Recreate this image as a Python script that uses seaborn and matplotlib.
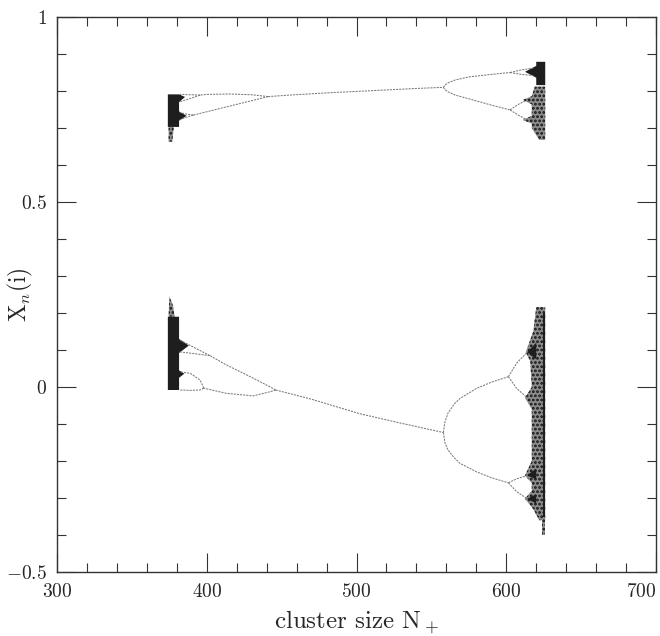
"""Bifurcation diagram of x_n(i) against cluster size N+."""
import matplotlib
matplotlib.use("Agg")
import matplotlib.pyplot as plt
from matplotlib.ticker import MultipleLocator
import seaborn as sns

# axis ticks
x_ticks = [300, 400, 500, 600, 700]
y_ticks = [-0.5, 0, 0.5, 1]
y_tick_labels = [r"$-0.5$", r"$0$", r"$0.5$", r"$1$"]

# ---- periodic branches ----
# upper group
top_main_x = [441, 455, 480, 510, 540, 558]
top_main_y = [0.785, 0.789, 0.795, 0.801, 0.807, 0.810]
top_left_hi_x = [441, 430, 415, 400, 395.5]
top_left_hi_y = [0.785, 0.790, 0.792, 0.791, 0.789]
top_left_lo_x = [441, 430, 413, 400, 391]
top_left_lo_y = [0.785, 0.774, 0.757, 0.744, 0.735]
tl_p4a_x = [395.5, 389, 382]
tl_p4a_y = [0.789, 0.790, 0.791]
tl_p4b_x = [395.5, 389, 382]
tl_p4b_y = [0.789, 0.780, 0.771]
tl_p4c_x = [391, 386, 382]
tl_p4c_y = [0.735, 0.738, 0.742]
tl_p4d_x = [391, 386, 382]
tl_p4d_y = [0.735, 0.729, 0.722]
top_right_hi_x = [558, 559, 561, 566, 575, 590, 602.5]
top_right_hi_y = [0.810, 0.816, 0.822, 0.830, 0.838, 0.845, 0.850]
top_right_lo_x = [558, 559, 561, 566, 575, 590, 602.5]
top_right_lo_y = [0.810, 0.804, 0.798, 0.789, 0.779, 0.762, 0.749]
tr_p4a_x = [602.5, 610, 618]
tr_p4a_y = [0.850, 0.857, 0.862]
tr_p4b_x = [602.5, 610, 618]
tr_p4b_y = [0.850, 0.845, 0.842]
tr_p4c_x = [602.5, 608, 614]
tr_p4c_y = [0.749, 0.764, 0.776]
tr_p4d_x = [602.5, 608, 614]
tr_p4d_y = [0.749, 0.735, 0.722]

# lower group
bot_main_x = [446, 470, 502, 530, 558]
bot_main_y = [-0.008, -0.033, -0.072, -0.098, -0.123]
bot_left_hi_x = [446, 442, 430, 413, 402]
bot_left_hi_y = [-0.008, 0.001, 0.026, 0.060, 0.085]
bot_left_lo_x = [446, 442, 431, 413, 398]
bot_left_lo_y = [-0.008, -0.013, -0.024, -0.017, -0.003]
bl_p4a_x = [402, 392, 382]
bl_p4a_y = [0.085, 0.106, 0.127]
bl_p4b_x = [402, 392, 382]
bl_p4b_y = [0.085, 0.090, 0.095]
bl_p4c_x = [398, 395.5, 389, 382]
bl_p4c_y = [-0.003, 0.019, 0.037, 0.041]
bl_p4d_x = [398, 395.5, 389, 382]
bl_p4d_y = [-0.003, -0.008, -0.009, -0.008]
bot_right_hi_x = [558, 559, 561, 565, 569, 580, 590, 601.4]
bot_right_hi_y = [-0.123, -0.095, -0.071, -0.047, -0.031, -0.004, 0.013, 0.028]
bot_right_lo_x = [558, 559, 561, 565, 569, 580, 590, 601.4]
bot_right_lo_y = [-0.123, -0.150, -0.170, -0.190, -0.206, -0.229, -0.245, -0.259]
br_p4a_x = [601.4, 607, 614]
br_p4a_y = [0.028, 0.065, 0.094]
br_p4b_x = [601.4, 607, 614]
br_p4b_y = [0.028, -0.004, -0.029]
br_p4c_x = [601.4, 607, 614]
br_p4c_y = [-0.259, -0.248, -0.239]
br_p4d_x = [601.4, 607, 614]
br_p4d_y = [-0.259, -0.283, -0.302]

# ---- chaotic bands (outlines) ----
tl_dense_x = [374, 374, 381.5, 385.5, 381.5, 381.5, 386.5, 381.5, 381.5]
tl_dense_y = [0.703, 0.791, 0.791, 0.784, 0.770, 0.745, 0.733, 0.720, 0.703]
tl_sparse_x = [374.5, 374.5, 378, 377]
tl_sparse_y = [0.663, 0.703, 0.703, 0.663]

bl_dense_x = [374, 374, 381.5, 381.5, 388, 381.5, 381.5, 385, 381.5, 381.5]
bl_dense_y = [-0.008, 0.19, 0.19, 0.13, 0.112, 0.092, 0.045, 0.036, 0.025, -0.008]
bl_sparse_x = [374.5, 375, 377.5, 378.5]
bl_sparse_y = [0.19, 0.245, 0.22, 0.19]

tr_dense_x = [626, 626, 620, 620, 612.5, 620, 620]
tr_dense_y = [0.879, 0.816, 0.816, 0.836, 0.852, 0.868, 0.879]
tr_mid_x = [626, 626, 622, 617, 617, 611, 617, 617, 611, 617, 619]
tr_mid_y = [0.812, 0.668, 0.668, 0.700, 0.712, 0.722, 0.733, 0.764, 0.776, 0.786, 0.812]

br_col_x = [624.5, 624.5, 626, 626]
br_col_y = [-0.35, 0.20, 0.20, -0.35]
br_mid_x = [626, 620, 618, 613, 616, 617, 612.5, 617, 617, 612.5, 617, 617, 612.5, 618, 622, 626]
br_mid_y = [0.216, 0.216, 0.15, 0.094, 0.07, 0.0, -0.029, -0.06, -0.2, -0.239,
            -0.26, -0.28, -0.302, -0.33, -0.36, -0.36]
br_wedge1_x = [614, 620, 620]
br_wedge1_y = [0.094, 0.12, 0.075]
br_wedge2_x = [614, 620, 620]
br_wedge2_y = [-0.239, -0.22, -0.25]
br_wedge3_x = [614, 620, 620]
br_wedge3_y = [-0.302, -0.29, -0.315]
br_tail_x = [624, 624, 626, 626]
br_tail_y = [-0.36, -0.40, -0.40, -0.36]

branches = [
    (top_main_x, top_main_y), (top_left_hi_x, top_left_hi_y), (top_left_lo_x, top_left_lo_y),
    (tl_p4a_x, tl_p4a_y), (tl_p4b_x, tl_p4b_y), (tl_p4c_x, tl_p4c_y), (tl_p4d_x, tl_p4d_y),
    (top_right_hi_x, top_right_hi_y), (top_right_lo_x, top_right_lo_y),
    (tr_p4a_x, tr_p4a_y), (tr_p4b_x, tr_p4b_y), (tr_p4c_x, tr_p4c_y), (tr_p4d_x, tr_p4d_y),
    (bot_main_x, bot_main_y), (bot_left_hi_x, bot_left_hi_y), (bot_left_lo_x, bot_left_lo_y),
    (bl_p4a_x, bl_p4a_y), (bl_p4b_x, bl_p4b_y), (bl_p4c_x, bl_p4c_y), (bl_p4d_x, bl_p4d_y),
    (bot_right_hi_x, bot_right_hi_y), (bot_right_lo_x, bot_right_lo_y),
    (br_p4a_x, br_p4a_y), (br_p4b_x, br_p4b_y), (br_p4c_x, br_p4c_y), (br_p4d_x, br_p4d_y),
]
dense_bands = [(tl_dense_x, tl_dense_y), (bl_dense_x, bl_dense_y), (tr_dense_x, tr_dense_y),
               (br_col_x, br_col_y), (br_wedge1_x, br_wedge1_y), (br_wedge2_x, br_wedge2_y),
               (br_wedge3_x, br_wedge3_y)]
speckled_bands = [(tl_sparse_x, tl_sparse_y), (bl_sparse_x, bl_sparse_y), (tr_mid_x, tr_mid_y),
                  (br_mid_x, br_mid_y), (br_tail_x, br_tail_y)]

sns.set_theme(style="ticks")
plt.rcParams["font.family"] = "serif"
plt.rcParams["font.serif"] = ["cmr10"]
plt.rcParams["mathtext.fontset"] = "cm"
plt.rcParams["axes.formatter.use_mathtext"] = True
plt.rcParams["hatch.linewidth"] = 1.3

fig = plt.figure(figsize=(6.6, 6.36), dpi=100)
ax = fig.add_axes([0.0864, 0.1006, 0.9076, 0.8726])

# speckled parts first, dense on top
for bx, by in speckled_bands:
    ax.fill(bx, by, facecolor="#8c8c8c", edgecolor="#111111", hatch="....", linewidth=0)
for bx, by in dense_bands:
    ax.fill(bx, by, facecolor="#1e1e1e", linewidth=0)

for bx, by in branches:
    sns.lineplot(x=bx, y=by, sort=False, estimator=None, ax=ax, color="#7a7a7a",
                 linewidth=0.75, linestyle=(0, (2, 1)))

ax.set_xlim(300, 700)
ax.set_ylim(-0.5, 1)
ax.set_xticks(x_ticks)
ax.set_yticks(y_ticks, labels=y_tick_labels)
ax.xaxis.set_minor_locator(MultipleLocator(20))
ax.yaxis.set_minor_locator(MultipleLocator(0.1))
ax.tick_params(which="both", direction="in", top=True, right=True, width=0.8,
               color="#333333", labelsize=14)
ax.tick_params(which="major", length=13.5)
ax.tick_params(which="minor", length=6.8)
ax.tick_params(axis="x", pad=8)
ax.tick_params(axis="y", pad=7)
for s in ax.spines.values():
    s.set_linewidth(1.0)
    s.set_color("#333333")

# last x label sits flush with the right spine, as in the original
fig.canvas.draw()
ax.get_xticklabels()[-1].set_horizontalalignment("right")

ax.set_xlabel(r"cluster size N$_+$", fontsize=18)
ax.xaxis.set_label_coords(0.5, -0.066)
ax.set_ylabel(r"$\mathrm{X}_n\mathrm{(i)}$", fontsize=17)
ax.yaxis.set_label_coords(-0.037, 0.5)

fig.savefig("out.png", dpi=100)
